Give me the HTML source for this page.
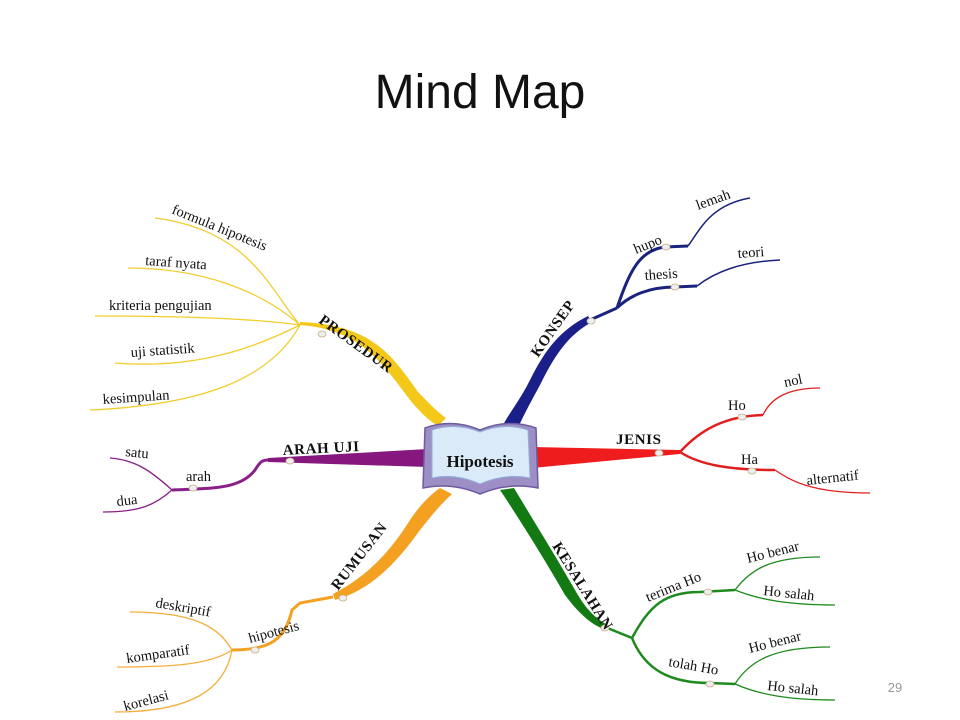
<!DOCTYPE html>
<html><head><meta charset="utf-8"><style>
html,body{margin:0;padding:0;background:#fff;width:960px;height:720px;overflow:hidden}
svg{display:block}
.t{font-family:"Liberation Serif",serif;font-size:14.5px;fill:#111}
.b{font-family:"Liberation Serif",serif;font-size:15px;font-weight:bold;fill:#111;letter-spacing:0.6px}
</style></head><body>
<svg width="960" height="720" viewBox="0 0 960 720" xmlns="http://www.w3.org/2000/svg">
<text x="480" y="108" text-anchor="middle" font-family="Liberation Sans, sans-serif" font-size="48" fill="#111">Mind Map</text>
<text x="895" y="692" text-anchor="middle" font-family="Liberation Sans, sans-serif" font-size="13" fill="#999">29</text>

<!-- YELLOW -->
<g fill="none" stroke="#f2cd2c" stroke-width="1.3">
<path d="M300,325 C270,290 250,230 155,218"/>
<path d="M300,325 C260,290 200,268 128,268"/>
<path d="M300,325 C250,318 170,316 95,316"/>
<path d="M300,325 C260,345 200,370 115,363"/>
<path d="M300,325 C270,380 200,405 90,410"/>
</g>
<path d="M300,325 C360,330 380,360 410,400 C420,412 428,420 438,426 L446,418 C435,410 428,402 418,392 C390,352 370,325 300,322 Z" fill="#f4c81a"/>
<!-- PURPLE -->
<g fill="none" stroke="#8a1e8a" stroke-width="1.3">
<path d="M172,490 C150,470 135,460 110,458"/>
<path d="M172,490 C155,505 140,512 103,512"/>
</g>
<path d="M172,490 C210,488 240,490 255,470 C260,462 262,460 268,460" fill="none" stroke="#8a1e8a" stroke-width="3"/>
<path d="M268,458 L428,449 L428,467 L268,462 Z" fill="#86177f"/>
<!-- ORANGE -->
<g fill="none" stroke="#f4ae3c" stroke-width="1.3">
<path d="M232,650 C220,630 200,612 130,612"/>
<path d="M232,650 C210,665 170,667 117,667"/>
<path d="M232,650 C225,690 190,712 115,712"/>
</g>
<path d="M232,650 C270,650 285,640 292,610 L300,603 L333,597" fill="none" stroke="#f4a020" stroke-width="3"/>
<path d="M333,594 C360,580 385,560 410,520 C420,505 430,495 440,488 L452,494 C440,505 432,515 420,530 C395,565 370,590 335,600 Z" fill="#f4a020"/>
<!-- BLUE -->
<g fill="none" stroke="#1a237e" stroke-width="1.5">
<path d="M688,246 C700,230 710,205 750,198"/>
<path d="M697,286 C715,272 740,262 780,260"/>
</g>
<g fill="none" stroke="#1a237e" stroke-width="3">
<path d="M617,308 C630,270 640,250 665,247 L688,246"/>
<path d="M617,308 C630,295 650,287 675,287 L697,286"/>
<path d="M590,320 L617,308"/>
</g>
<path d="M588,316 C560,330 545,350 530,380 C520,400 510,412 503,425 L518,428 C525,412 532,400 540,385 C555,355 568,335 592,322 Z" fill="#1b1f8a"/>
<!-- RED -->
<g fill="none" stroke="#e02020" stroke-width="1.3">
<path d="M763,415 C770,400 785,388 820,388"/>
<path d="M775,470 C790,480 810,493 870,493"/>
</g>
<g fill="none" stroke="#e02020" stroke-width="2.5">
<path d="M680,452 C700,430 725,416 763,415"/>
<path d="M680,452 C700,465 730,470 775,470"/>
</g>
<path d="M532,447 L680,450 L680,454 L532,468 Z" fill="#ee1c1c"/>
<!-- GREEN -->
<g fill="none" stroke="#1e8a1e" stroke-width="1.3">
<path d="M735,590 C750,570 770,557 820,557"/>
<path d="M735,590 C760,600 790,605 835,605"/>
<path d="M735,684 C750,660 775,647 830,647"/>
<path d="M735,684 C760,695 790,700 835,700"/>
</g>
<g fill="none" stroke="#1e8a1e" stroke-width="2.5">
<path d="M632,638 C650,605 665,592 700,592 L735,590"/>
<path d="M632,638 C645,670 670,683 710,683 L735,684"/>
<path d="M605,627 L632,638"/>
</g>
<path d="M500,490 C520,520 545,560 565,595 C580,615 592,625 606,630 L606,624 C595,618 585,608 575,590 C555,555 530,515 514,488 Z" fill="#137a13"/>

<!-- node dots -->
<g fill="#eee" stroke="#c9b08a" stroke-width="0.8">
<ellipse cx="322" cy="334" rx="4" ry="3"/><ellipse cx="290" cy="461" rx="4" ry="3"/>
<ellipse cx="193" cy="488" rx="4" ry="3"/><ellipse cx="343" cy="598" rx="4" ry="3"/>
<ellipse cx="255" cy="650" rx="4" ry="3"/><ellipse cx="591" cy="321" rx="4" ry="3"/>
<ellipse cx="666" cy="247" rx="4" ry="3"/><ellipse cx="675" cy="287" rx="4" ry="3"/>
<ellipse cx="659" cy="453" rx="4" ry="3"/><ellipse cx="742" cy="417" rx="4" ry="3"/>
<ellipse cx="752" cy="471" rx="4" ry="3"/><ellipse cx="605" cy="628" rx="4" ry="3"/>
<ellipse cx="708" cy="592" rx="4" ry="3"/><ellipse cx="710" cy="684" rx="4" ry="3"/>
</g>

<!-- labels -->
<text class="t" transform="translate(171,213) rotate(22)">formula hipotesis</text>
<text class="t" x="145" y="265" transform="rotate(4 145 265)">taraf nyata</text>
<text class="t" x="109" y="310">kriteria pengujian</text>
<text class="t" x="131" y="357" transform="rotate(-4 131 357)">uji statistik</text>
<text class="t" x="103" y="404" transform="rotate(-4 103 404)">kesimpulan</text>
<text class="b" transform="translate(318,322) rotate(36)">PROSEDUR</text>
<text class="b" x="283" y="455" transform="rotate(-3 283 455)">ARAH UJI</text>
<text class="t" x="186" y="481">arah</text>
<text class="t" x="125" y="456" transform="rotate(6 125 456)">satu</text>
<text class="t" x="117" y="506" transform="rotate(-6 117 506)">dua</text>
<text class="b" transform="translate(338,591) rotate(-52)">RUMUSAN</text>
<text class="t" transform="translate(250,643) rotate(-15)">hipotesis</text>
<text class="t" transform="translate(155,607) rotate(10)">deskriptif</text>
<text class="t" transform="translate(127,663) rotate(-8)">komparatif</text>
<text class="t" transform="translate(125,711) rotate(-15)">korelasi</text>
<text class="b" transform="translate(538,358) rotate(-55)">KONSEP</text>
<text class="t" transform="translate(636,254) rotate(-22)">hupo</text>
<text class="t" x="645" y="280" transform="rotate(-4 645 280)">thesis</text>
<text class="t" transform="translate(698,210) rotate(-20)">lemah</text>
<text class="t" x="738" y="258" transform="rotate(-4 738 258)">teori</text>
<text class="b" x="616" y="444">JENIS</text>
<text class="t" x="728" y="410">Ho</text>
<text class="t" x="741" y="464">Ha</text>
<text class="t" transform="translate(785,387) rotate(-12)">nol</text>
<text class="t" transform="translate(807,485) rotate(-6)">alternatif</text>
<text class="b" transform="translate(552,546) rotate(58)">KESALAHAN</text>
<text class="t" transform="translate(648,602) rotate(-22)">terima Ho</text>
<text class="t" transform="translate(668,666) rotate(10)">tolah Ho</text>
<text class="t" transform="translate(748,563) rotate(-14)">Ho benar</text>
<text class="t" transform="translate(763,595) rotate(6)">Ho salah</text>
<text class="t" transform="translate(750,653) rotate(-14)">Ho benar</text>
<text class="t" transform="translate(767,690) rotate(6)">Ho salah</text>

<!-- book -->
<path d="M425,428 Q452,418 480,430 Q508,418 536,428 L538,488 Q508,482 480,494 Q452,482 423,488 Z" fill="#9d8fc6" stroke="#6c5ba0" stroke-width="1.5"/>
<path d="M432,430 Q455,422 480,432 Q505,422 528,430 L530,478 Q505,473 480,484 Q455,473 432,478 Z" fill="#dbeaf8" stroke="#8fb0d8" stroke-width="1"/>
<text x="480" y="467" text-anchor="middle" font-family="Liberation Serif, serif" font-weight="bold" font-size="17" fill="#111">Hipotesis</text>
</svg>
</body></html>
